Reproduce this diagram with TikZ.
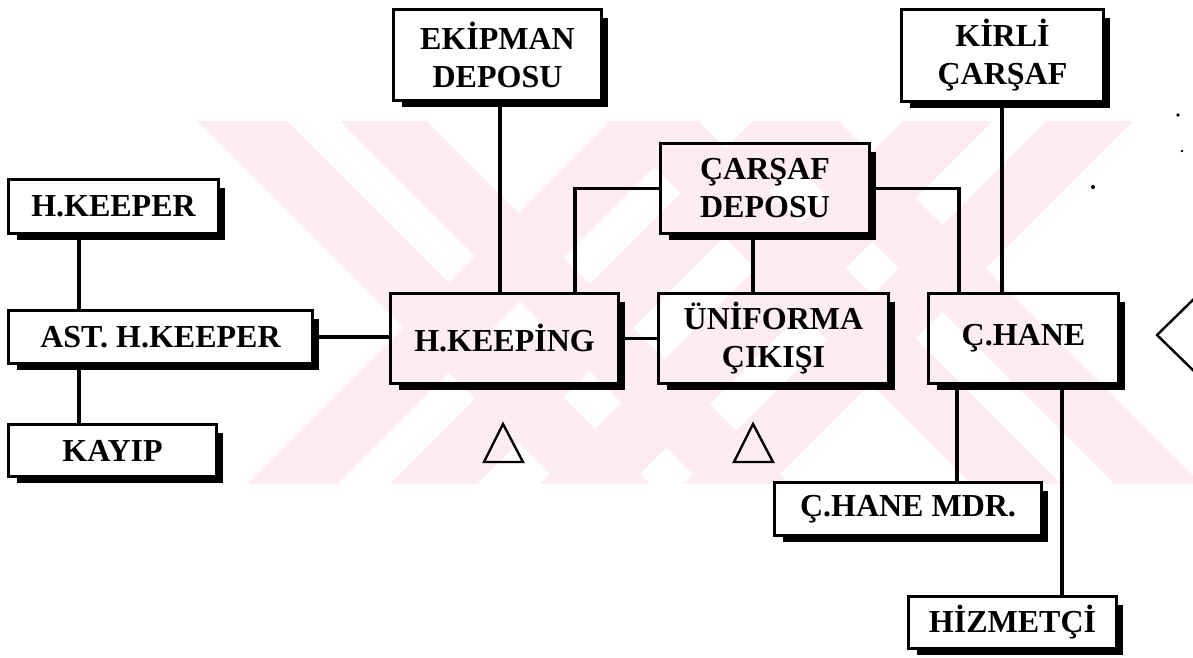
\documentclass[tikz,border=0pt]{standalone}
\usepackage{fontspec}
\setmainfont{Liberation Serif}
\definecolor{wmpink}{RGB}{253,236,240}
\begin{document}
\begin{tikzpicture}[x=1pt,y=-1pt,
  box/.style={draw=black, line width=3.2pt, inner sep=0pt, outer sep=0pt, align=center,
    font=\bfseries\fontsize{32}{38}\selectfont},
  link/.style={line width=3.5pt},
  shade/.style={line width=6pt, line cap=butt, line join=miter},
  marker/.style={line width=2.4pt, line join=miter}]
\useasboundingbox (0,0) rectangle (1193,657);

% background band pattern
\begin{scope}
  \clip (0,121) rectangle (1193,483);
  \foreach \a/\b in {76/166, 219/306, 487/577, 630/717}
    \fill[wmpink] ({\a+100},100) -- ({\b+100},100) -- ({\b+500},500) -- ({\a+500},500) -- cycle;
  \foreach \a/\b in {731/821, 874/961, 1024/1114, 1167/1254}
    \fill[wmpink] ({\a-100},100) -- ({\b-100},100) -- ({\b-500},500) -- ({\a-500},500) -- cycle;
\end{scope}

% boxes
\node[box, minimum width=210pt, minimum height=54pt] (hk)    at (113.5,206.5) {H.KEEPER};
\node[box, minimum width=304pt, minimum height=53pt] (ast)   at (160.5,337)   {AST. H.KEEPER};
\node[box, minimum width=208pt, minimum height=52pt] (kay)   at (112.5,450.5) {KAYIP};
\node[box, minimum width=208pt, minimum height=91pt] (ekip)  at (497.5,55)    {EKİPMAN\\DEPOSU};
\node[box, minimum width=228pt, minimum height=90pt] (hkg)   at (504.5,338.5) {H.KEEPİNG};
\node[box, minimum width=230pt, minimum height=90pt] (uni)   at (773.5,338.5) {ÜNİFORMA\\ÇIKIŞI};
\node[box, minimum width=209pt, minimum height=90pt] (car)   at (765,188.5)   {ÇARŞAF\\DEPOSU};
\node[box, minimum width=202pt, minimum height=92pt] (kirli) at (1002.5,55.5) {KİRLİ\\ÇARŞAF};
\node[box, minimum width=190pt, minimum height=90pt] (chane) at (1023.5,338.5) {Ç.HANE};
\node[box, minimum width=267pt, minimum height=53pt] (mdr)   at (908,509)     {Ç.HANE MDR.};
\node[box, minimum width=208pt, minimum height=52pt] (hiz)   at (1012.5,622.5) {HİZMETÇİ};

% drop shadows on the right and bottom edges
\foreach \n in {hk,ast,kay,ekip,hkg,uni,car,kirli,chane,mdr,hiz}
  \draw[shade] ([shift={(3.6,8)}]\n.north east) -- ([shift={(3.6,3.6)}]\n.south east)
               -- ([shift={(8,3.6)}]\n.south west);

% connectors
\coordinate (xa) at (79,0);
\coordinate (xb) at (500,0);
\coordinate (xc) at (575,0);
\coordinate (xd) at (753,0);
\coordinate (xe) at (959,0);
\coordinate (xf) at (1002,0);
\coordinate (xg) at (957,0);
\coordinate (xh) at (1062,0);
\draw[link] (hk.south -| xa) -- (ast.north -| xa);
\draw[link] (ast.south -| xa) -- (kay.north -| xa);
\draw[link] (ast.east) -- (ast.east -| hkg.west);
\draw[link] (hkg.east) -- (hkg.east -| uni.west);
\draw[link] (ekip.south -| xb) -- (hkg.north -| xb);
\draw[link] (car.west) -| (hkg.north -| xc);
\draw[link] (car.south -| xd) -- (uni.north -| xd);
\draw[link] (car.east) -| (chane.north -| xe);
\draw[link] (kirli.south -| xf) -- (chane.north -| xf);
\draw[link] (chane.south -| xg) -- (mdr.north -| xg);
\draw[link] (chane.south -| xh) -- (hiz.north -| xh);

% triangle markers
\draw[marker] (503,424) -- (523,462) -- (484,462) -- cycle;
\draw[marker] (753,424) -- (773,462) -- (734,462) -- cycle;
\draw[marker] (1200,293) -- (1157,335) -- (1200,377);

% specks
\fill (1178,115) circle (1.8);
\fill (1182,151) circle (1.3);
\fill (1093,187) circle (2);
\end{tikzpicture}
\end{document}
